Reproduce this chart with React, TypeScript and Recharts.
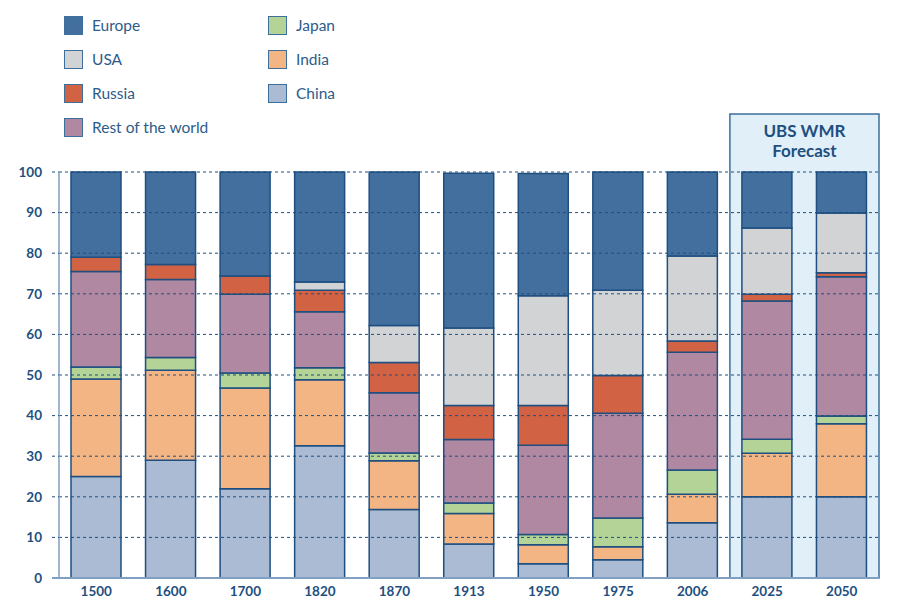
import React from 'react';
import {
  BarChart,
  Bar,
  XAxis,
  YAxis,
  ReferenceLine,
  ReferenceArea
} from 'recharts';

// Share of world GDP (%), stacked bottom to top
const years = ['1500', '1600', '1700', '1820', '1870', '1913', '1950', '1975', '2006', '2025', '2050'];
const china = [25.0, 29.0, 22.0, 32.6, 16.9, 8.4, 3.5, 4.5, 13.6, 20.0, 20.0];
const india = [24.0, 22.2, 24.8, 16.2, 12.0, 7.5, 4.7, 3.2, 7.0, 10.7, 18.0];
const japan = [3.0, 3.1, 3.7, 3.0, 1.9, 2.6, 2.5, 7.1, 6.0, 3.5, 1.9];
const restOfWorld = [23.5, 19.2, 19.4, 13.8, 14.8, 15.6, 22.0, 25.8, 29.0, 34.0, 34.3];
const russia = [3.5, 3.7, 4.5, 5.3, 7.5, 8.4, 9.8, 9.3, 2.8, 1.7, 1.0];
const usa = [0, 0, 0, 2.0, 9.1, 19.1, 27.0, 21.0, 20.9, 16.3, 14.7];
const europe = [21.0, 22.8, 25.6, 27.1, 37.8, 38.1, 30.1, 29.1, 20.7, 13.8, 10.1];

const yTicks = [0, 10, 20, 30, 40, 50, 60, 70, 80, 90, 100];
const forecastYears = ['2025', '2050'];

const series = [
  { key: 'china', name: 'China', color: '#abbbd3', values: china },
  { key: 'india', name: 'India', color: '#f4b584', values: india },
  { key: 'japan', name: 'Japan', color: '#b3d397', values: japan },
  { key: 'row', name: 'Rest of the world', color: '#b088a2', values: restOfWorld },
  { key: 'russia', name: 'Russia', color: '#d26244', values: russia },
  { key: 'usa', name: 'USA', color: '#d2d3d5', values: usa },
  { key: 'europe', name: 'Europe', color: '#426f9e', values: europe },
];

const legendCols = [
  ['europe', 'usa', 'russia', 'row'],
  ['japan', 'india', 'china'],
];

const data = years.map((year, i) => {
  const row: { [key: string]: any } = { year };
  series.forEach(s => { row[s.key] = s.values[i]; });
  return row;
});

const BLUE = '#1e4f80';
const AXIS = '#7fa0c2';
const FONT = 'Lato, "Open Sans", sans-serif';

const LeftTick = ({ x, y, payload }: any) => (
  <g>
    <line
      x1={x - 7}
      x2={x}
      y1={y}
      y2={y}
      stroke={payload.value === 0 ? AXIS : BLUE}
      strokeWidth={payload.value === 0 ? 2 : 1}
      strokeDasharray={payload.value === 0 ? undefined : '3 3'}
    />
    <text x={x - 17} y={y} dy="0.35em" textAnchor="end" fill={BLUE} fontSize={13.5} fontWeight={700} fontFamily={FONT}>
      {payload.value}
    </text>
  </g>
);

const RightTick = ({ x, y, payload }: any) => (
  <g>
    <line
      x1={x}
      x2={x + 7}
      y1={y}
      y2={y}
      stroke={payload.value === 0 ? AXIS : BLUE}
      strokeWidth={payload.value === 0 ? 2 : 1}
      strokeDasharray={payload.value === 0 ? undefined : '3 3'}
    />
    <text x={x + 14} y={y} dy="0.35em" textAnchor="start" fill={BLUE} fontSize={13.5} fontWeight={700} fontFamily={FONT}>
      {payload.value}
    </text>
  </g>
);

const ForecastLabel = ({ viewBox }: any) => {
  if (!viewBox) return null;
  const cx = viewBox.x + viewBox.width / 2;
  return (
    <text textAnchor="middle" fill={BLUE} fontSize={17} fontWeight={700} fontFamily={FONT}>
      <tspan x={cx} y={viewBox.y + 23}>UBS WMR</tspan>
      <tspan x={cx} y={viewBox.y + 43}>Forecast</tspan>
    </text>
  );
};

const App = () => {
  const byKey = Object.fromEntries(series.map(s => [s.key, s]));
  return (
    <div style={{ position: 'absolute', left: 0, top: 0, width: 917, height: 599, background: '#fff' }}>
      {/* legend, two columns */}
      {legendCols.map((col, ci) => (
        <div key={ci} style={{ position: 'absolute', left: ci === 0 ? 64 : 268, top: 8 }}>
          {col.map(k => (
            <div key={k} style={{ display: 'flex', alignItems: 'center', height: 34 }}>
              <div
                style={{
                  width: 17,
                  height: 17,
                  background: byKey[k].color,
                  border: '1.5px solid #3d6f9c',
                  marginRight: 9,
                }}
              />
              <span style={{ fontFamily: FONT, fontSize: 15.5, color: '#2d5c8a' }}>{byKey[k].name}</span>
            </div>
          ))}
        </div>
      ))}
      <BarChart
        width={917}
        height={599}
        data={data}
        margin={{ top: 172, right: 0, bottom: 0, left: 0 }}
        barCategoryGap={0}
      >
        <XAxis
          dataKey="year"
          height={21}
          tickLine={false}
          axisLine={{ stroke: AXIS, strokeWidth: 2 }}
          tick={{ fill: BLUE, fontSize: 13.5, fontWeight: 700, fontFamily: FONT }}
        />
        <YAxis
          yAxisId="left"
          width={59}
          domain={[0, 100]}
          ticks={yTicks}
          interval={0}
          tickSize={0}
          tickMargin={0}
          tickLine={false}
          axisLine={{ stroke: AXIS, strokeWidth: 1.5 }}
          tick={<LeftTick />}
        />
        <YAxis
          yAxisId="right"
          orientation="right"
          width={38}
          domain={[0, 100]}
          ticks={yTicks}
          interval={0}
          tickSize={0}
          tickMargin={0}
          tickLine={false}
          axisLine={false}
          tick={<RightTick />}
        />
        <ReferenceArea
          yAxisId="left"
          x1={forecastYears[0]}
          x2={forecastYears[1]}
          y1={0}
          y2={114.3}
          ifOverflow="visible"
          fill="#e1eff8"
          fillOpacity={1}
          stroke="#3d6f9c"
          strokeWidth={1.5}
          label={<ForecastLabel />}
        />
        {series.map(s => (
          <Bar
            key={s.key}
            yAxisId="left"
            dataKey={s.key}
            name={s.name}
            stackId="gdp"
            fill={s.color}
            stroke={BLUE}
            strokeWidth={1.5}
            barSize={50}
            isAnimationActive={false}
          />
        ))}
        {yTicks.filter(t => t > 0).map(t => (
          <ReferenceLine key={t} yAxisId="left" y={t} stroke={BLUE} strokeWidth={1} strokeDasharray="3 3" />
        ))}
      </BarChart>
    </div>
  );
};

export default App;
